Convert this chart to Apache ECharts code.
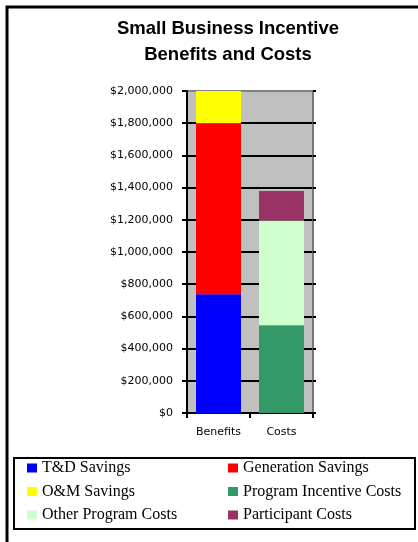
<!DOCTYPE html>
<html>
<head>
<meta charset="utf-8">
<script src="https://cdn.jsdelivr.net/npm/echarts@6/dist/echarts.min.js"></script>
<style>
  html, body { margin: 0; padding: 0; background: #ffffff; }
  #chart { width: 418px; height: 542px; }
</style>
</head>
<body>
<div id="chart"></div>
<script>
// Categories and stacked components (dollars)
const categories = ['Benefits', 'Costs'];
const tdSavings = [737000, null];
const generationSavings = [1063000, null];
const omSavings = [200000, null];
const programIncentiveCosts = [null, 545000];
const otherProgramCosts = [null, 650000];
const participantCosts = [null, 184000];
const yTicks = { min: 0, max: 2000000, interval: 200000 };

const seriesDefs = [
  { name: 'T&D Savings', data: tdSavings, color: '#0000ff' },
  { name: 'Generation Savings', data: generationSavings, color: '#ff0000' },
  { name: 'O&M Savings', data: omSavings, color: '#ffff00' },
  { name: 'Program Incentive Costs', data: programIncentiveCosts, color: '#339966' },
  { name: 'Other Program Costs', data: otherProgramCosts, color: '#ccffcc' },
  { name: 'Participant Costs', data: participantCosts, color: '#993366' }
];

function money(v) {
  return '$' + String(v).replace(/\B(?=(\d{3})+(?!\d))/g, ',');
}

// Gridlines are black except the top one, which takes the gray frame colour
const tickCount = Math.round((yTicks.max - yTicks.min) / yTicks.interval) + 1;
const gridColors = Array.from({ length: tickCount }, (_, i) => (i === tickCount - 1 ? '#808080' : '#000'));

const chart = echarts.init(document.getElementById('chart'), null, { renderer: 'canvas' });

const legendText = { fontFamily: 'Liberation Serif', fontSize: 16, color: '#000', lineHeight: 16 };

chart.setOption({
  animation: false,
  backgroundColor: '#ffffff',
  title: {
    text: 'Small Business Incentive\nBenefits and Costs',
    left: 223,
    top: 11,
    textAlign: 'center',
    textStyle: { fontFamily: 'Liberation Sans', fontWeight: 'bold', fontSize: 18.5, lineHeight: 26, color: '#000' }
  },
  grid: {
    left: 187, right: 105, top: 91, bottom: 129,
    show: true, backgroundColor: '#c0c0c0', borderColor: '#808080', borderWidth: 1
  },
  legend: [
    {
      data: ['T&D Savings', 'O&M Savings', 'Other Program Costs'],
      orient: 'vertical', left: 27, top: 460, padding: 0, itemWidth: 10, itemHeight: 9, itemGap: 7.5,
      icon: 'rect', selectedMode: false, textStyle: legendText
    },
    {
      data: ['Generation Savings', 'Program Incentive Costs', 'Participant Costs'],
      orient: 'vertical', left: 228, top: 460, padding: 0, itemWidth: 10, itemHeight: 9, itemGap: 7.5,
      icon: 'rect', selectedMode: false, textStyle: legendText
    }
  ],
  xAxis: {
    type: 'category',
    data: categories,
    axisLine: { lineStyle: { color: '#000', width: 2 } },
    axisTick: { show: true, length: 5, lineStyle: { color: '#000', width: 2 } },
    axisLabel: { fontFamily: 'DejaVu Sans', fontSize: 11, color: '#000', margin: 14 }
  },
  yAxis: [
    {
      type: 'value',
      min: yTicks.min, max: yTicks.max, interval: yTicks.interval,
      axisLine: { show: true, lineStyle: { color: '#000', width: 2 } },
      axisTick: { show: true, length: 5, lineStyle: { color: '#000', width: 2 } },
      splitLine: { show: true, lineStyle: { color: gridColors, width: 2 } },
      axisLabel: { formatter: money, fontFamily: 'DejaVu Sans', fontSize: 11, color: '#000', margin: 14 }
    },
    {
      type: 'value', position: 'right',
      min: yTicks.min, max: yTicks.max, interval: yTicks.interval,
      axisLine: { show: true, lineStyle: { color: '#666', width: 1.5 } },
      axisTick: { show: true, length: 3, lineStyle: { color: '#000', width: 2 } },
      splitLine: { show: false },
      axisLabel: { show: false }
    }
  ],
  series: seriesDefs.map(s => ({
    name: s.name,
    type: 'bar',
    stack: 'total',
    barWidth: 45,
    data: s.data,
    itemStyle: { color: s.color },
    emphasis: { disabled: true }
  })),
  graphic: [
    {
      type: 'polyline',
      shape: { points: [[7, 542], [7, 7], [418, 7]] },
      style: { stroke: '#000', lineWidth: 3, fill: null },
      z: 100
    },
    {
      type: 'rect',
      shape: { x: 14, y: 458, width: 401, height: 71 },
      style: { stroke: '#000', lineWidth: 2, fill: null },
      z: 100
    }
  ]
});
</script>
</body>
</html>
